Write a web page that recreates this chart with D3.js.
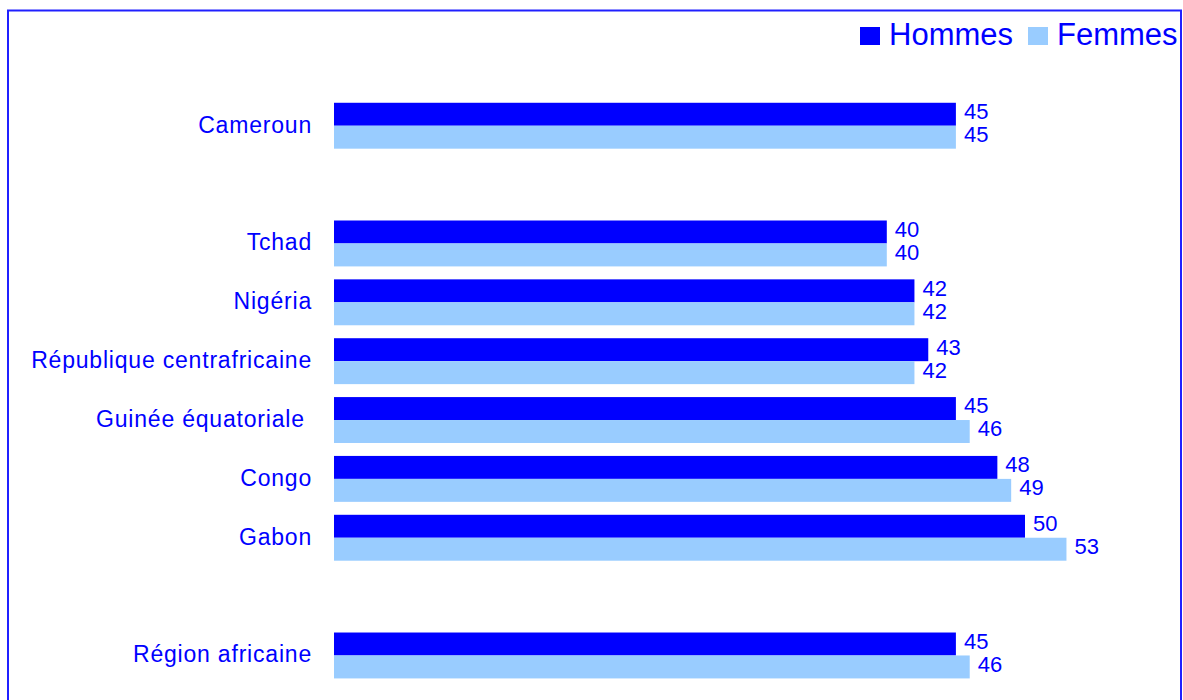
<!DOCTYPE html>
<html>
<head>
<meta charset="utf-8">
<script src="https://cdn.jsdelivr.net/npm/d3@7"></script>
<style>
  body { margin: 0; background: #fff; }
  svg { display: block; font-family: Arial, "Liberation Sans", sans-serif; }
</style>
</head>
<body>
<div id="chart"></div>
<script>
// slots in drawing order, null = empty row used as a gap
const categories = ["Cameroun", null, "Tchad", "Nigéria", "République centrafricaine",
                    "Guinée équatoriale ", "Congo", "Gabon", null, "Région africaine"];
const hommes = [45, null, 40, 42, 43, 45, 48, 50, null, 45];
const femmes = [45, null, 40, 42, 42, 46, 49, 53, null, 46];
const series = ["Hommes", "Femmes"];
const colors = ["#0000ff", "#99ccff"];

const width = 1183, height = 700;

const svg = d3.select("#chart")
              .append("svg")
              .attr("width", width)
              .attr("height", height);

// frame
svg.append("rect")
   .attr("x", 8).attr("y", 10.5)
   .attr("width", 1173).attr("height", 720)
   .attr("fill", "none")
   .attr("stroke", "#2020ff")
   .attr("stroke-width", 2);

const slots = d3.range(categories.length + 1); // one extra empty slot at the bottom

const y = d3.scaleBand()
            .domain(slots)
            .range([96.3, 96.3 + slots.length * 58.86])
            .paddingInner(0.22)
            .paddingOuter(0.11);

const ySub = d3.scaleBand()
               .domain(series)
               .range([0, y.bandwidth()]);

const x = d3.scaleLinear()
            .domain([0, 60])
            .range([334, 334 + 60 * 13.82]);

const rows = categories.map((c, i) => ({ name: c, i: i, vals: [hommes[i], femmes[i]] }))
                       .filter(d => d.name !== null);

const g = svg.selectAll(".row")
             .data(rows)
             .enter()
             .append("g")
             .attr("class", "row")
             .attr("transform", d => `translate(0,${y(d.i)})`);

g.append("text")
 .attr("x", 312)
 .attr("y", y.bandwidth() / 2)
 .attr("dy", "0.3em")
 .attr("text-anchor", "end")
 .style("white-space", "pre")
 .style("font-size", "23px")
 .style("letter-spacing", "0.8px")
 .style("fill", "#0000ff")
 .text(d => d.name);

g.selectAll(".bar")
 .data(d => d.vals.map((v, k) => ({ key: series[k], v: v, k: k })))
 .enter()
 .append("rect")
 .attr("class", "bar")
 .attr("x", x(0))
 .attr("y", d => ySub(d.key))
 .attr("width", d => x(d.v) - x(0))
 .attr("height", ySub.bandwidth())
 .attr("fill", d => colors[d.k]);

g.selectAll(".val")
 .data(d => d.vals.map((v, k) => ({ key: series[k], v: v, k: k })))
 .enter()
 .append("text")
 .attr("class", "val")
 .attr("x", d => x(d.v) + 8)
 .attr("y", d => ySub(d.key) + ySub.bandwidth() / 2 - 3)
 .attr("dy", "0.36em")
 .style("font-size", "22px")
 .style("fill", "#0000ff")
 .text(d => d.v);

// legend
const legendX = [860, 1028];
const legend = svg.selectAll(".legend")
                  .data(series)
                  .enter()
                  .append("g")
                  .attr("class", "legend")
                  .attr("transform", (d, i) => `translate(${legendX[i]},27)`);

legend.append("rect")
      .attr("width", 20).attr("height", 18)
      .attr("fill", (d, i) => colors[i]);

legend.append("text")
      .attr("x", 29)
      .attr("y", 18)
      .style("font-size", "31px")
      .style("fill", "#0000ff")
      .text(d => d);
</script>
</body>
</html>
